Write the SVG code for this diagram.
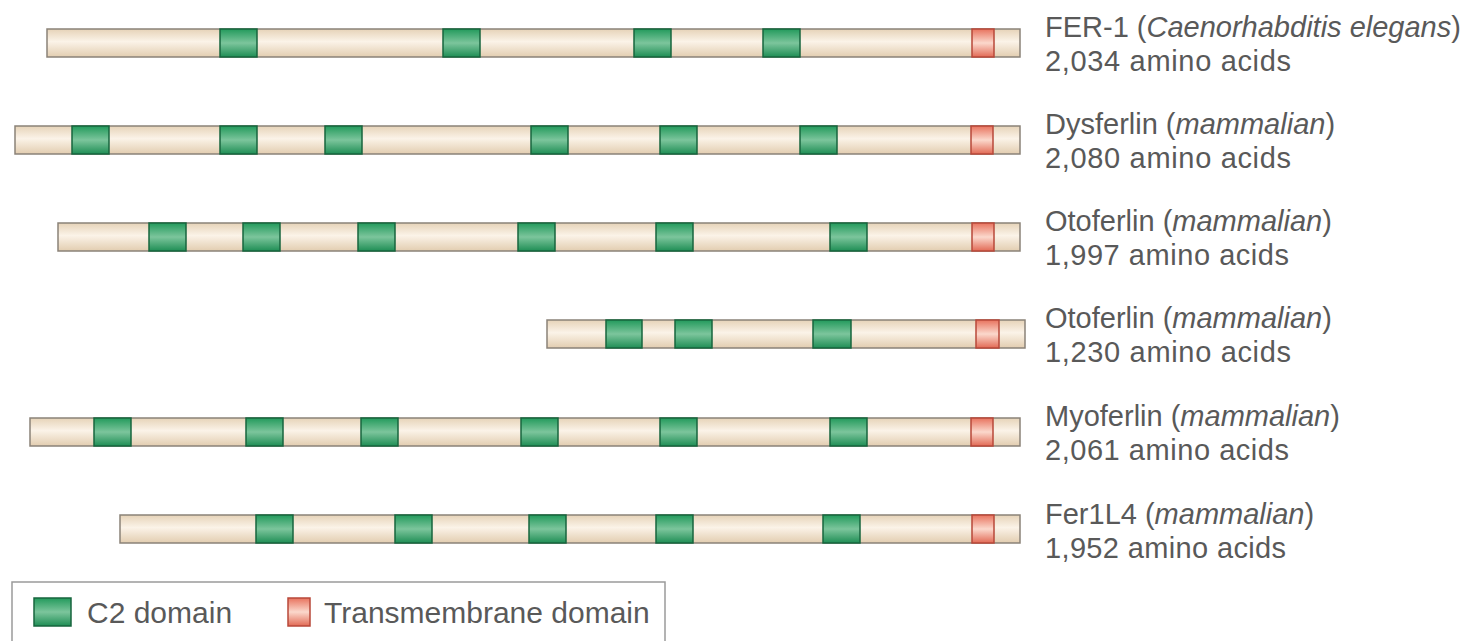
<svg xmlns="http://www.w3.org/2000/svg" width="1474" height="641" viewBox="0 0 1474 641">
<defs>
<linearGradient id="gBar" x1="0" y1="0" x2="0" y2="1">
<stop offset="0" stop-color="#e6d3b8"/><stop offset="0.45" stop-color="#fbf3e8"/><stop offset="1" stop-color="#e2cdb0"/>
</linearGradient>
<linearGradient id="gC2" x1="0" y1="0" x2="0" y2="1">
<stop offset="0" stop-color="#239a5c"/><stop offset="0.5" stop-color="#7cc59c"/><stop offset="1" stop-color="#1f8e55"/>
</linearGradient>
<linearGradient id="gTM" x1="0" y1="0" x2="0" y2="1">
<stop offset="0" stop-color="#e8735e"/><stop offset="0.5" stop-color="#fbd8cc"/><stop offset="1" stop-color="#e26a55"/>
</linearGradient>
<style>
.bar{fill:url(#gBar);stroke:#8a8278;stroke-width:1.5}
.c2{fill:url(#gC2);stroke:#17653e;stroke-width:1.5}
.tm{fill:url(#gTM);stroke:#b8483a;stroke-width:1.5}
.t{font-family:"Liberation Sans",Arial,Helvetica,sans-serif;font-size:29px;fill:#595959}
.l{font-size:30px}
.i{font-style:italic}
.leg{fill:#fff;stroke:#9a9a9a;stroke-width:1.5}
</style>
</defs>

<g id="fer1">
<rect class="bar" x="47" y="29" width="973" height="28"/>
<rect class="c2" x="220" y="29" width="37" height="28"/>
<rect class="c2" x="443" y="29" width="37" height="28"/>
<rect class="c2" x="634" y="29" width="37" height="28"/>
<rect class="c2" x="763" y="29" width="37" height="28"/>
<rect class="tm" x="972" y="29" width="22" height="28"/>
<text class="t" x="1045" y="37">FER-1 (<tspan class="i">Caenorhabditis elegans</tspan>)</text>
<text class="t" x="1045" y="71" textLength="246">2,034 amino acids</text>
</g>

<g id="dysferlin">
<rect class="bar" x="15" y="126" width="1005" height="28"/>
<rect class="c2" x="72" y="126" width="37" height="28"/>
<rect class="c2" x="220" y="126" width="37" height="28"/>
<rect class="c2" x="325" y="126" width="37" height="28"/>
<rect class="c2" x="531" y="126" width="37" height="28"/>
<rect class="c2" x="660" y="126" width="37" height="28"/>
<rect class="c2" x="800" y="126" width="37" height="28"/>
<rect class="tm" x="971" y="126" width="22" height="28"/>
<text class="t" x="1045" y="134">Dysferlin (<tspan class="i">mammalian</tspan>)</text>
<text class="t" x="1045" y="168" textLength="246">2,080 amino acids</text>
</g>

<g id="otoferlin1">
<rect class="bar" x="58" y="223" width="962" height="28"/>
<rect class="c2" x="149" y="223" width="37" height="28"/>
<rect class="c2" x="243" y="223" width="37" height="28"/>
<rect class="c2" x="358" y="223" width="37" height="28"/>
<rect class="c2" x="518" y="223" width="37" height="28"/>
<rect class="c2" x="656" y="223" width="37" height="28"/>
<rect class="c2" x="830" y="223" width="37" height="28"/>
<rect class="tm" x="972" y="223" width="22" height="28"/>
<text class="t" x="1045" y="231">Otoferlin (<tspan class="i">mammalian</tspan>)</text>
<text class="t" x="1045" y="265" textLength="244">1,997 amino acids</text>
</g>

<g id="otoferlin2">
<rect class="bar" x="547" y="320" width="478" height="28"/>
<rect class="c2" x="606" y="320" width="36" height="28"/>
<rect class="c2" x="675" y="320" width="37" height="28"/>
<rect class="c2" x="813" y="320" width="38" height="28"/>
<rect class="tm" x="976" y="320" width="23" height="28"/>
<text class="t" x="1045" y="328">Otoferlin (<tspan class="i">mammalian</tspan>)</text>
<text class="t" x="1045" y="362" textLength="246">1,230 amino acids</text>
</g>

<g id="myoferlin">
<rect class="bar" x="30" y="418" width="990" height="28"/>
<rect class="c2" x="94" y="418" width="37" height="28"/>
<rect class="c2" x="246" y="418" width="37" height="28"/>
<rect class="c2" x="361" y="418" width="37" height="28"/>
<rect class="c2" x="521" y="418" width="37" height="28"/>
<rect class="c2" x="660" y="418" width="37" height="28"/>
<rect class="c2" x="830" y="418" width="37" height="28"/>
<rect class="tm" x="971" y="418" width="22" height="28"/>
<text class="t" x="1045" y="426">Myoferlin (<tspan class="i">mammalian</tspan>)</text>
<text class="t" x="1045" y="460" textLength="244">2,061 amino acids</text>
</g>

<g id="fer1l4">
<rect class="bar" x="120" y="515" width="900" height="28"/>
<rect class="c2" x="256" y="515" width="37" height="28"/>
<rect class="c2" x="395" y="515" width="37" height="28"/>
<rect class="c2" x="529" y="515" width="37" height="28"/>
<rect class="c2" x="656" y="515" width="37" height="28"/>
<rect class="c2" x="823" y="515" width="37" height="28"/>
<rect class="tm" x="972" y="515" width="22" height="28"/>
<text class="t" x="1045" y="524">Fer1L4 (<tspan class="i">mammalian</tspan>)</text>
<text class="t" x="1045" y="558" textLength="241">1,952 amino acids</text>
</g>

<g id="legend">
<rect class="leg" x="12" y="582" width="653" height="70"/>
<rect class="c2" x="34" y="598" width="37" height="28"/>
<text class="t l" x="87" y="623">C2 domain</text>
<rect class="tm" x="288" y="598" width="22" height="28"/>
<text class="t l" x="324" y="623">Transmembrane domain</text>
</g>
</svg>
